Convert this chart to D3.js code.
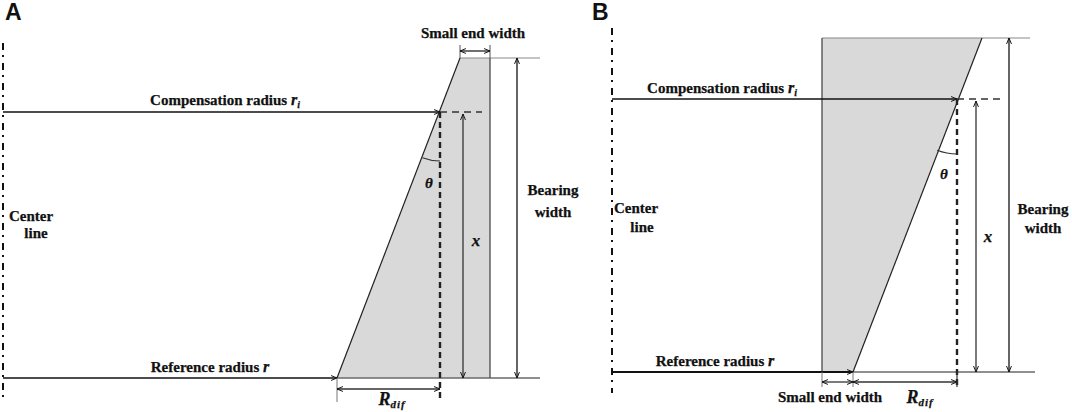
<!DOCTYPE html>
<html>
<head>
<meta charset="utf-8">
<script src="https://cdn.jsdelivr.net/npm/d3@7"></script>
<style>
    body { margin: 0; background: #fff; }
    text { font-family: "Liberation Serif", "Times New Roman", serif; font-weight: bold; fill: #111; stroke: #111; stroke-width: 0.25px; }
    .panel-label { font-family: "Liberation Sans", Arial, sans-serif; font-size: 23px; stroke: none; }
</style>
</head>
<body>
<svg id="fig" width="1072" height="412"></svg>
<script>
// Geometry of the two bearing sections, in diagram units
// r = radial distance from the center line, z = height above the reference face
const panelNames = ["A", "B"];
const bearingWidth = [320, 334];
const refRadius = [334, 241];     // slanted face at z = 0
const topRadius = [457, 370];     // slanted face at z = bearing width
const straightRadius = [487, 210]; // straight face of the section
const compRadius = [437, 345];    // compensation radius r_i
const compHeight = [266, 273];    // x, height of r_i above the reference face

// text annotations per panel: [text, r, z, anchor, italic suffix]
const labelsA = [
    ["Reference radius ", 207, 6, "middle", "r"],
    ["Small end width", 470, 340, "middle"],
    ["Bearing", 550, 183, "middle"],
    ["width", 550, 161, "middle"],
    ["Center", 6, 157, "start"],
    ["line", 33, 140, "middle"]
];
const labelsB = [
    ["Reference radius ", 103, 6, "middle", "r"],
    ["Small end width", 218, -30, "middle"],
    ["Bearing", 431, 158, "middle"],
    ["width", 431, 139, "middle"],
    ["Center", 2, 159, "start"],
    ["line", 30, 140, "middle"]
];

// layout of each panel on the page and of its dimension lines
const layout = [
    { x0: 3, y0: 378, labels: labelsA, comp: [222, 273], theta: [426, 190], xLab: [473, 132], rdif: [389, -27],
      xArrowR: 460, bearingR: 514, topEnd: 537, baseEnd: 537, dashEnd: 479, dashBottom: -22,
      dimZ: -11, extBottom: -24, smallZ: 327, center: [335, -25], arcR: 49, refWidth: 1.5, labelX: 5 },
    { x0: 612, y0: 372, labels: labelsB, comp: [110, 279], theta: [332, 193], xLab: [376, 130], rdif: [308, -31],
      xArrowR: 364, bearingR: 397, topEnd: 418, baseEnd: 423, dashEnd: 390, dashBottom: -15,
      dimZ: -10, extBottom: -15, smallZ: null, center: [344, -21], arcR: 55, refWidth: 2.2, labelX: 592 }
];

const svg = d3.select("#fig");

// open arrow head used by every dimension line
svg.append("defs").append("marker")
    .attr("id", "arrow")
    .attr("viewBox", "0 0 10 10")
    .attr("refX", 9.5)
    .attr("refY", 5)
    .attr("markerWidth", 7)
    .attr("markerHeight", 7)
    .attr("markerUnits", "userSpaceOnUse")
    .attr("orient", "auto-start-reverse")
    .append("path")
    .attr("d", "M1,1.5 L9.5,5 L1,8.5")
    .attr("fill", "none")
    .attr("stroke", "#111")
    .attr("stroke-width", 1.4);

function drawPanel(i) {
    const L = layout[i];
    const bw = bearingWidth[i];
    const g = svg.append("g");

    const x = d3.scaleLinear().domain([0, 500]).range([L.x0, L.x0 + 500]);
    const y = d3.scaleLinear().domain([0, 300]).range([L.y0, L.y0 - 300]);
    const line = d3.line().x(d => x(d[0])).y(d => y(d[1]));

    function seg(pts, stroke, width, dash, ends) {
        const p = g.append("path")
            .attr("d", line(pts))
            .attr("fill", "none")
            .attr("stroke", stroke)
            .attr("stroke-width", width);
        if (dash) p.attr("stroke-dasharray", dash);
        if (ends === "end" || ends === "both") p.attr("marker-end", "url(#arrow)");
        if (ends === "both") p.attr("marker-start", "url(#arrow)");
        return p;
    }

    // shaded section
    const shape = [[refRadius[i], 0], [topRadius[i], bw], [straightRadius[i], bw], [straightRadius[i], 0]];
    g.append("path")
        .attr("d", line(shape) + "Z")
        .attr("fill", "#d9d9d9");

    // top face and base line
    seg([[Math.min(topRadius[i], straightRadius[i]), bw], [L.topEnd, bw]], "#8a8a8a", 1.1);
    seg([[Math.min(refRadius[i], straightRadius[i]), 0], [L.baseEnd, 0]], "#6a6a6a", 1.3);

    // faces
    seg([[straightRadius[i], 0], [straightRadius[i], bw]], "#555", 1.4);
    seg([[refRadius[i], 0], [topRadius[i], bw]], "#222", 1.2);

    // center line
    seg([[0, L.center[0]], [0, L.center[1]]], "#111", 2, "7,5,2,6");

    // radius arrows
    seg([[0, compHeight[i]], [compRadius[i], compHeight[i]]], "#111", 1.3, null, "end");
    seg([[0, 0], [refRadius[i], 0]], "#111", L.refWidth, null, "end");

    // dashed guides through the compensation point
    seg([[compRadius[i], compHeight[i]], [L.dashEnd, compHeight[i]]], "#333", 1.3, "7,5");
    seg([[compRadius[i], compHeight[i]], [compRadius[i], L.dashBottom]], "#222", 2.4, "6,4");

    // x and bearing width
    seg([[L.xArrowR, compHeight[i] - 2], [L.xArrowR, 0]], "#333", 1.3, null, "both");
    seg([[L.bearingR, bw], [L.bearingR, 0]], "#333", 1.5, null, "both");

    // R_dif and small end width dimensions
    seg([[refRadius[i], 0], [refRadius[i], L.extBottom]], "#777", 1);
    seg([[refRadius[i], L.dimZ], [compRadius[i], L.dimZ]], "#333", 1.3, null, "both");
    if (L.smallZ !== null) {
        seg([[topRadius[i], bw], [topRadius[i], bw + 13]], "#555", 1);
        seg([[straightRadius[i], bw], [straightRadius[i], bw + 13]], "#555", 1);
        seg([[topRadius[i], L.smallZ], [straightRadius[i], L.smallZ]], "#222", 1.3, null, "both");
    } else {
        seg([[straightRadius[i], 0], [straightRadius[i], L.extBottom]], "#777", 1);
        seg([[compRadius[i], 0], [compRadius[i], L.extBottom]], "#333", 1.2);
        seg([[straightRadius[i], L.dimZ], [refRadius[i], L.dimZ]], "#333", 1.3, null, "both");
    }

    // theta arc between the slanted face and the vertical guide
    const cx = x(compRadius[i]), cy = y(compHeight[i]);
    const slant = Math.atan2(x(topRadius[i]) - x(refRadius[i]), y(0) - y(bw));
    const arc = d3.path();
    arc.arc(cx, cy, L.arcR, Math.PI / 2, Math.PI / 2 + slant, false);
    g.append("path").attr("d", arc.toString())
        .attr("fill", "none").attr("stroke", "#333").attr("stroke-width", 1.2);

    // labels
    L.labels.forEach(d => {
        const t = g.append("text")
            .attr("x", x(d[1]))
            .attr("y", y(d[2]))
            .attr("text-anchor", d[3])
            .style("font-size", "15px")
            .text(d[0]);
        if (d[4]) t.append("tspan").style("font-style", "italic").style("font-size", "16px").text(d[4]);
    });

    const comp = g.append("text")
        .attr("x", x(L.comp[0]))
        .attr("y", y(L.comp[1]))
        .attr("text-anchor", "middle")
        .style("font-size", "15px")
        .text("Compensation radius ");
    comp.append("tspan").style("font-style", "italic").style("font-size", "16px").text("r");
    comp.append("tspan").style("font-style", "italic").style("font-size", "10px").attr("dy", 3).text("i");

    g.append("text")
        .attr("x", x(L.theta[0])).attr("y", y(L.theta[1]))
        .attr("text-anchor", "middle")
        .style("font-size", "15px").style("font-style", "italic")
        .text("θ");
    g.append("text")
        .attr("x", x(L.xLab[0])).attr("y", y(L.xLab[1]))
        .attr("text-anchor", "middle")
        .style("font-size", "17px").style("font-style", "italic")
        .text("x");

    const rdif = g.append("text")
        .attr("x", x(L.rdif[0])).attr("y", y(L.rdif[1]))
        .attr("text-anchor", "middle")
        .style("font-style", "italic");
    rdif.append("tspan").style("font-size", "18px").text("R");
    rdif.append("tspan").style("font-size", "11px").attr("dy", 3).attr("letter-spacing", "1px").text("dif");

    svg.append("text")
        .attr("class", "panel-label")
        .attr("x", L.labelX)
        .attr("y", 20)
        .text(panelNames[i]);
}

panelNames.forEach((n, i) => drawPanel(i));
</script>
</body>
</html>
